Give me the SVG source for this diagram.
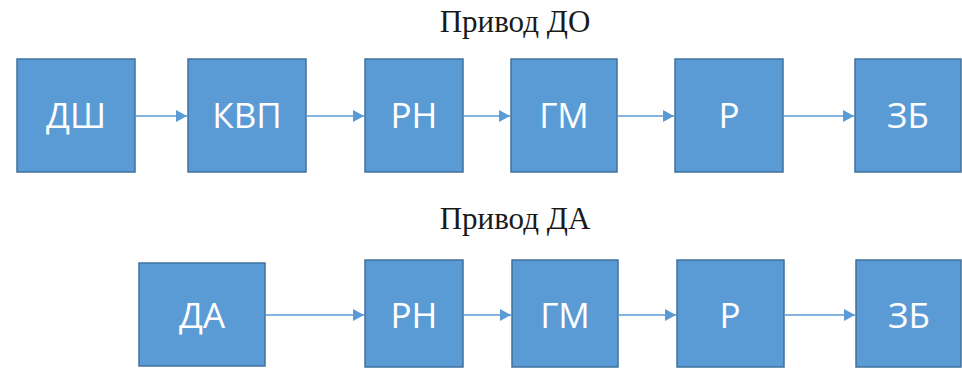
<svg xmlns="http://www.w3.org/2000/svg" width="962" height="368" viewBox="0 0 962 368">
  <style>
    .box { fill: #5B9BD5; stroke: #41719C; stroke-width: 1.5; }
    .lbl { fill: #FFFFFF; font-family: "Open Sans", "Noto Sans", "DejaVu Sans", sans-serif; font-size: 35px; text-anchor: middle; }
    .title { fill: #1a1a1a; font-family: "Liberation Serif", "DejaVu Serif", serif; font-size: 31px; text-anchor: middle; }
    .conn { stroke: #5B9BD5; stroke-width: 1.6; fill: none; marker-end: url(#arrow); }
  </style>
  <defs>
    <marker id="arrow" markerUnits="userSpaceOnUse" markerWidth="12" markerHeight="12" refX="11" refY="6" orient="auto">
      <path d="M0,0 L11,6 L0,12 z" fill="#5B9BD5"/>
    </marker>
  </defs>

  <rect width="962" height="368" fill="#FFFFFF"/>

  <!-- drive DO -->
  <text id="title-do" class="title" x="515" y="32">Привод ДО</text>

  <g id="do-dsh"><rect class="box" x="17" y="59" width="118" height="113"/><text class="lbl" x="76" y="128">ДШ</text></g>
  <g id="do-kvp"><rect class="box" x="188" y="59" width="118" height="113"/><text class="lbl" x="247" y="128">КВП</text></g>
  <g id="do-rn"><rect class="box" x="365" y="59" width="98" height="113"/><text class="lbl" x="414" y="128">РН</text></g>
  <g id="do-gm"><rect class="box" x="511" y="59" width="106" height="113"/><text class="lbl" x="564" y="128">ГМ</text></g>
  <g id="do-r"><rect class="box" x="675" y="59" width="108" height="113"/><text class="lbl" x="729" y="128">Р</text></g>
  <g id="do-zb"><rect class="box" x="855" y="59" width="106" height="113"/><text class="lbl" x="908" y="128">ЗБ</text></g>

  <!-- drive DA -->
  <text id="title-da" class="title" x="515" y="229">Привод ДА</text>

  <g id="da-da"><rect class="box" x="139" y="263" width="126" height="103"/><text class="lbl" x="202" y="328">ДА</text></g>
  <g id="da-rn"><rect class="box" x="365" y="260" width="98" height="107"/><text class="lbl" x="414" y="328">РН</text></g>
  <g id="da-gm"><rect class="box" x="512" y="260" width="106" height="107"/><text class="lbl" x="565" y="328">ГМ</text></g>
  <g id="da-r"><rect class="box" x="677" y="260" width="107" height="107"/><text class="lbl" x="730" y="328">Р</text></g>
  <g id="da-zb"><rect class="box" x="856" y="260" width="105" height="107"/><text class="lbl" x="909" y="328">ЗБ</text></g>

  <g id="connectors">
    <line class="conn" x1="136" y1="116" x2="187" y2="116"/>
    <line class="conn" x1="307" y1="116" x2="364" y2="116"/>
    <line class="conn" x1="464" y1="116" x2="510" y2="116"/>
    <line class="conn" x1="618" y1="116" x2="674" y2="116"/>
    <line class="conn" x1="784" y1="116" x2="854" y2="116"/>

    <line class="conn" x1="266" y1="315" x2="364" y2="315"/>
    <line class="conn" x1="464" y1="315" x2="511" y2="315"/>
    <line class="conn" x1="619" y1="315" x2="676" y2="315"/>
    <line class="conn" x1="785" y1="315" x2="855" y2="315"/>
  </g>
</svg>
